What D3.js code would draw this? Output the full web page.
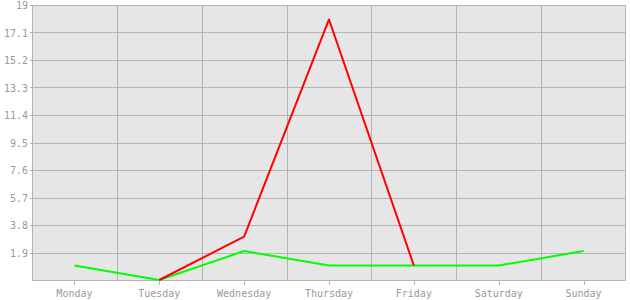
<!DOCTYPE html>
<html>
<head>
<meta charset="utf-8">
<script src="https://cdn.jsdelivr.net/npm/d3@7"></script>
<style>
  body { margin: 0; background: #fff; }
  text { font-family: "DejaVu Sans Mono", monospace; font-size: 10px; fill: #999; }
</style>
</head>
<body>
<div id="chart"></div>
<script>
const days = ["Monday", "Tuesday", "Wednesday", "Thursday", "Friday", "Saturday", "Sunday"];
const redValues = [null, 0, 3, 18, 1, null, null];
const greenValues = [1, 0, 2, 1, 1, 1, 2];
const yTicks = [1.9, 3.8, 5.7, 7.6, 9.5, 11.4, 13.3, 15.2, 17.1, 19];

const width = 630, height = 300;
const m = { top: 5, right: 4, bottom: 20, left: 32 };

const svg = d3.select("#chart").append("svg")
    .attr("width", width).attr("height", height);

const x = d3.scaleBand().domain(days).range([m.left, width - m.right]);
const y = d3.scaleLinear().domain([0, 19]).range([height - m.bottom, m.top]);

// plot background
svg.append("rect")
    .attr("x", m.left).attr("y", m.top)
    .attr("width", width - m.right - m.left)
    .attr("height", height - m.bottom - m.top)
    .attr("fill", "#e6e6e6");

// horizontal grid
svg.append("g").selectAll("line")
    .data(yTicks).join("line")
    .attr("x1", m.left - 2).attr("x2", width - m.right)
    .attr("y1", d => Math.round(y(d)) + 0.5).attr("y2", d => Math.round(y(d)) + 0.5)
    .attr("stroke", "#b4b4b4");

// vertical grid at band boundaries
svg.append("g").selectAll("line")
    .data(days.slice(1)).join("line")
    .attr("x1", d => Math.round(x(d)) + 0.5).attr("x2", d => Math.round(x(d)) + 0.5)
    .attr("y1", m.top).attr("y2", height - m.bottom)
    .attr("stroke", "#b4b4b4");

// frame
svg.append("rect")
    .attr("x", m.left + 0.5).attr("y", m.top + 0.5)
    .attr("width", width - m.right - m.left - 1)
    .attr("height", height - m.bottom - m.top)
    .attr("fill", "none").attr("stroke", "#b4b4b4");

// x ticks
svg.append("g").selectAll("line")
    .data(days).join("line")
    .attr("x1", d => Math.round(x(d) + x.bandwidth() / 2) + 0.5)
    .attr("x2", d => Math.round(x(d) + x.bandwidth() / 2) + 0.5)
    .attr("y1", height - m.bottom).attr("y2", height - m.bottom + 5)
    .attr("stroke", "#b4b4b4");

// labels
svg.append("g").selectAll("text")
    .data(days).join("text")
    .attr("x", d => x(d) + x.bandwidth() / 2)
    .attr("y", height - m.bottom + 17)
    .attr("text-anchor", "middle")
    .text(d => d);

svg.append("g").selectAll("text")
    .data(yTicks).join("text")
    .attr("x", m.left - 4)
    .attr("y", d => y(d) + 4)
    .attr("text-anchor", "end")
    .text(d => d);

const line = d3.line()
    .defined(d => d.v !== null)
    .x(d => x(d.day) + x.bandwidth() / 2)
    .y(d => y(d.v));

const series = [
  { values: greenValues, color: "#00ff00" },
  { values: redValues, color: "#ff0000" }
];

svg.append("g").selectAll("path")
    .data(series).join("path")
    .attr("d", s => line(s.values.map((v, i) => ({ day: days[i], v }))))
    .attr("fill", "none")
    .attr("stroke", s => s.color)
    .attr("stroke-width", 2)
    .attr("stroke-linejoin", "round");
</script>
</body>
</html>
